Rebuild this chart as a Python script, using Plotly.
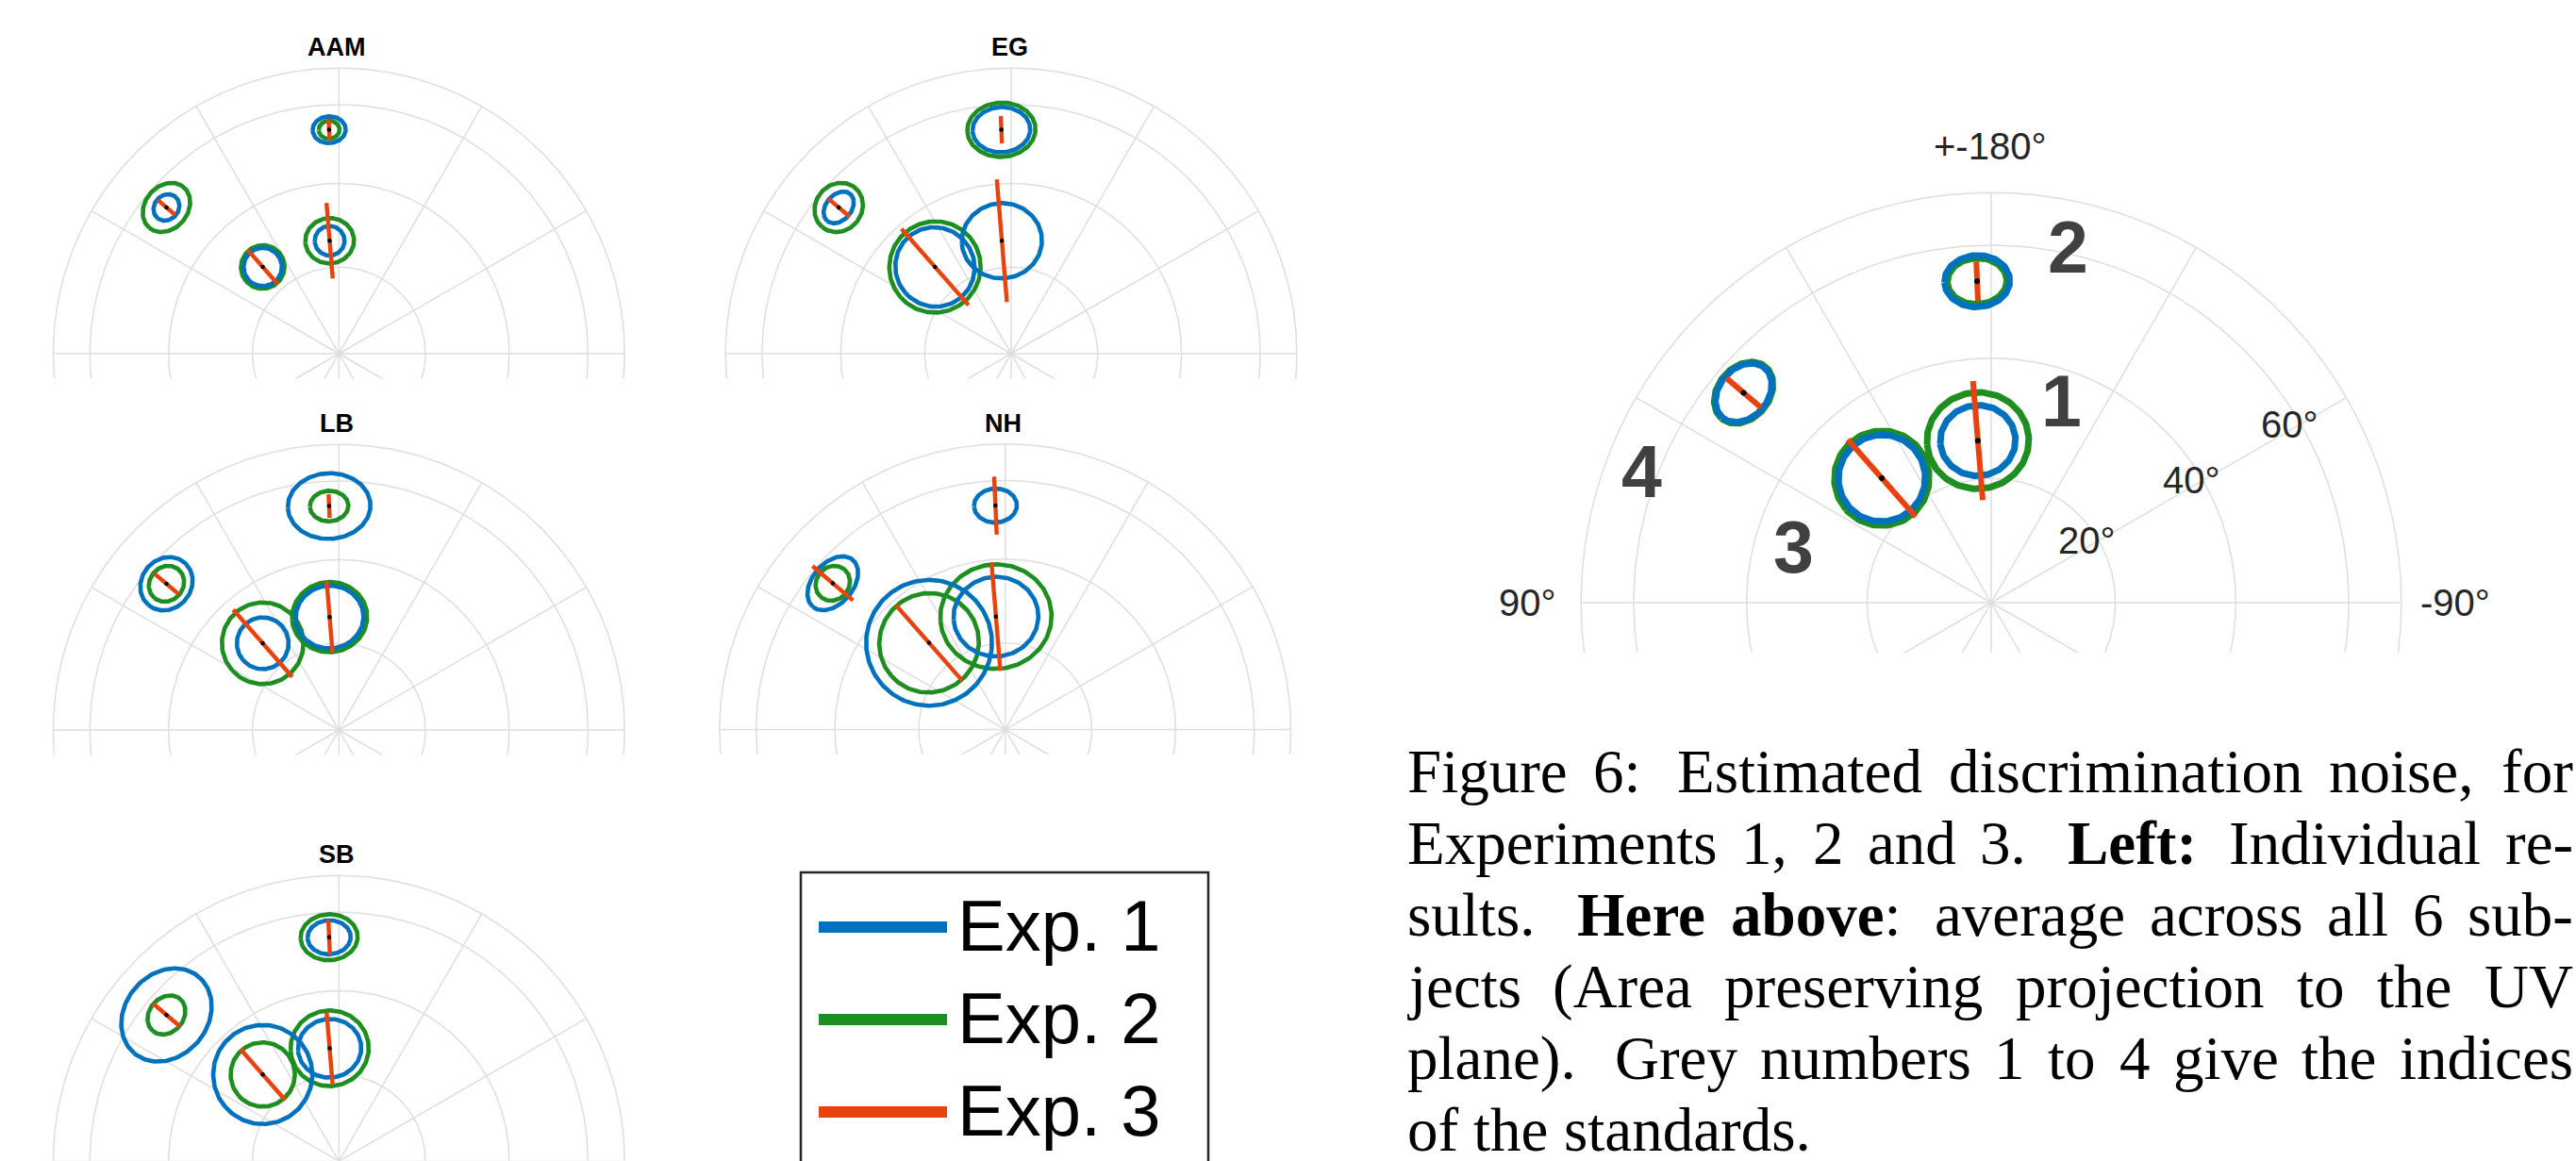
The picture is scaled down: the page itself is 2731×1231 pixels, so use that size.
import re
import numpy as np
import plotly.graph_objects as go

W, H = 2731, 1231

# ---------------------------------------------------------------- data
# Standards: hue angle (deg; 0 = down, 90 = left, +-180 = up) and polar angle (deg)
STD_HUE = [175.3, 177.5, 138.7, 130.3]
STD_POLAR = [26.3, 53.5, 26.8, 54.0]
STD_LABELS = ["1", "2", "3", "4"]

GRID_POLAR = [20, 40, 60]
POLAR_LIMIT = 70
SPOKE_STEP = 30
RTICK_LABELS = ["20°", "40°", "60°"]
THETA_LABELS = ["+-180°", "90°", "-90°"]

SUBJECTS = ["AAM", "EG", "LB", "NH", "SB"]
EXPERIMENTS = ["Exp. 1", "Exp. 2", "Exp. 3"]

# Exp. 1 / Exp. 2: noise ellipse semi-axes (tangential, radial), projected units
# Exp. 3: radial half-length only
AAM_EXP1 = [(0.060, 0.0595), (0.0666, 0.0538), (0.077, 0.077), (0.056, 0.049)]
AAM_EXP2 = [(0.098, 0.091), (0.042, 0.0367), (0.088, 0.087), (0.107, 0.086)]
AAM_EXP3 = [0.152, 0.043, 0.0905, 0.0456]

EG_EXP1 = [(0.161, 0.151), (0.116, 0.091), (0.158, 0.161), (0.0715, 0.0515)]
EG_EXP2 = [None, (0.137, 0.109), (0.184, 0.1825), (0.103, 0.093)]
EG_EXP3 = [0.247, 0.055, 0.204, 0.056]

LB_EXP1 = [(0.136, 0.126), (0.166, 0.132), (0.104, 0.104), (0.112, 0.100)]
LB_EXP2 = [(0.151, 0.141), (0.0773, 0.0615), (0.164, 0.164), (0.0752, 0.0678)]
LB_EXP3 = [0.1445, 0.0475, 0.1796, 0.0638]

NH_EXP1 = [(0.1704, 0.160), (0.0862, 0.0684), (0.2525, 0.2525), (0.124, 0.082)]
NH_EXP2 = [(0.2236, 0.2098), None, (0.2015, 0.198), (0.073, 0.066)]
NH_EXP3 = [0.219, 0.1166, 0.201, 0.1065]

SB_EXP1 = [(0.127, 0.118), (0.0868, 0.0684), (0.199, 0.199), (0.201, 0.166)]
SB_EXP2 = [(0.157, 0.152), (0.1147, 0.0925), (0.129, 0.129), (0.0847, 0.0692)]
SB_EXP3 = [0.145, 0.0697, 0.136, 0.071]

MEAN_EXP1 = [(0.1055, 0.0989), (0.0914, 0.0724), (0.122, 0.121), (0.0914, 0.0687)]
MEAN_EXP2 = [(0.1426, 0.1351), (0.0835, 0.065), (0.133, 0.1325), (0.095, 0.072)]
MEAN_EXP3 = [0.167, 0.0552, 0.144, 0.0633]

CAPTION = [
    "Figure 6: Estimated discrimination noise, for",
    "Experiments 1, 2 and 3. <b>Left:</b> Individual re-",
    "sults. <b>Here above</b>: average across all 6 sub-",
    "jects (Area preserving projection to the UV",
    "plane). Grey numbers 1 to 4 give the indices",
    "of the standards.",
]

# ---------------------------------------------------------------- style
BLUE = "#0072BD"
GREEN = "#1d8e1f"
RED = "#e8420f"
GRID = "#dedede"
SANS = "Liberation Sans"
SERIF = "Liberation Serif"


def proj(polar_deg):
    """Area preserving (Lambert) projection radius."""
    return 2.0 * np.sin(np.radians(polar_deg) / 2.0)


def to_uv(hue, polar):
    r = proj(polar)
    a = np.radians(hue)
    return -r * np.sin(a), -r * np.cos(a)


def frames(hue):
    a = np.radians(hue)
    er = np.array([-np.sin(a), -np.cos(a)])
    et = np.array([np.cos(a), -np.sin(a)])
    return er, et


fig = go.Figure()


def px2paper(x, y):
    return x / W, 1 - y / H


# panel placement: (centre x px, centre y px, px per unit, y range bottom)
PANEL_GEOM = {
    "AAM": (359.3, 375.0, 264.0, -0.10),
    "EG": (1072.0, 375.0, 264.0, -0.10),
    "LB": (359.3, 774.0, 264.0, -0.10),
    "NH": (1065.7, 773.5, 264.0, -0.10),
    "SB": (359.3, 1231.2, 264.0, None),
    "MEAN": (2111.0, 639.0, 379.0, -0.14),
}
PANEL_DATA = {
    "AAM": (AAM_EXP1, AAM_EXP2, AAM_EXP3),
    "EG": (EG_EXP1, EG_EXP2, EG_EXP3),
    "LB": (LB_EXP1, LB_EXP2, LB_EXP3),
    "NH": (NH_EXP1, NH_EXP2, NH_EXP3),
    "SB": (SB_EXP1, SB_EXP2, SB_EXP3),
    "MEAN": (MEAN_EXP1, MEAN_EXP2, MEAN_EXP3),
}

annotations = []
XR = [-1.17, 1.17]
YTOP = 1.2

for n, name in enumerate(SUBJECTS + ["MEAN"], start=1):
    cx, cy, k, ybot = PANEL_GEOM[name]
    if ybot is None:
        ybot = (cy - H) / k + 0.002
    xd = [(cx + XR[0] * k) / W, (cx + XR[1] * k) / W]
    yd = [1 - (cy - ybot * k) / H, 1 - (cy - YTOP * k) / H]
    sfx = "" if n == 1 else str(n)
    fig.update_layout({
        f"xaxis{sfx}": dict(domain=xd, range=XR, visible=False, fixedrange=True,
                            anchor=f"y{sfx}"),
        f"yaxis{sfx}": dict(domain=yd, range=[ybot, YTOP], visible=False,
                            fixedrange=True, anchor=f"x{sfx}"),
    })
    xa, ya = f"x{sfx}", f"y{sfx}"
    big = name == "MEAN"
    lw = 7 if big else 4.6
    rlw = 6 if big else 4.4
    dot = 6 if big else 4.5

    # polar grid: circles and spokes
    gx, gy = [], []
    t = np.linspace(0, 2 * np.pi, 361)
    rmax = proj(POLAR_LIMIT)
    for p in GRID_POLAR + [POLAR_LIMIT]:
        r = proj(p)
        gx += list(r * np.cos(t)) + [None]
        gy += list(r * np.sin(t)) + [None]
    for ang in range(0, 360, SPOKE_STEP):
        a = np.radians(ang)
        gx += [0, rmax * np.cos(a), None]
        gy += [0, rmax * np.sin(a), None]
    fig.add_trace(go.Scatter(x=gx, y=gy, mode="lines", xaxis=xa, yaxis=ya,
                             line=dict(color=GRID, width=1.5), hoverinfo="skip",
                             showlegend=False))

    exp1, exp2, exp3 = PANEL_DATA[name]
    tt = np.linspace(0, 2 * np.pi, 181)

    def ellipse_trace(vals, color):
        ex, ey = [], []
        for i, v in enumerate(vals):
            if v is None:
                continue
            tan, rad = v
            u0, v0 = to_uv(STD_HUE[i], STD_POLAR[i])
            er, et = frames(STD_HUE[i])
            ex += list(u0 + tan * np.cos(tt) * et[0] + rad * np.sin(tt) * er[0]) + [None]
            ey += list(v0 + tan * np.cos(tt) * et[1] + rad * np.sin(tt) * er[1]) + [None]
        fig.add_trace(go.Scatter(x=ex, y=ey, mode="lines", xaxis=xa, yaxis=ya,
                                 line=dict(color=color, width=lw), hoverinfo="skip",
                                 showlegend=False))

    ellipse_trace(exp2, GREEN)
    ellipse_trace(exp1, BLUE)

    lx, ly, dx, dy = [], [], [], []
    for i, half in enumerate(exp3):
        u0, v0 = to_uv(STD_HUE[i], STD_POLAR[i])
        er, _ = frames(STD_HUE[i])
        lx += [u0 - half * er[0], u0 + half * er[0], None]
        ly += [v0 - half * er[1], v0 + half * er[1], None]
        dx.append(u0)
        dy.append(v0)
    fig.add_trace(go.Scatter(x=lx, y=ly, mode="lines", xaxis=xa, yaxis=ya,
                             line=dict(color=RED, width=rlw), hoverinfo="skip",
                             showlegend=False))
    fig.add_trace(go.Scatter(x=dx, y=dy, mode="markers", xaxis=xa, yaxis=ya,
                             marker=dict(color="black", size=dot), hoverinfo="skip",
                             showlegend=False))

    if not big:
        tx, ty = px2paper(cx - 2, cy - (proj(POLAR_LIMIT) * k + 22))
        annotations.append(dict(text=f"<b>{name}</b>", x=tx, y=ty, xref="paper",
                                yref="paper", showarrow=False, xanchor="center",
                                yanchor="middle",
                                font=dict(family=SANS, size=27, color="black")))

# ---------------------------------------------------------------- big-plot labels
cx, cy, k, _ = PANEL_GEOM["MEAN"]
for lab, p in zip(RTICK_LABELS, GRID_POLAR):
    u, v = to_uv(-120, p)
    x, y = px2paper(cx + u * k - 12, cy - v * k)
    annotations.append(dict(text=lab, x=x, y=y, xref="paper", yref="paper",
                            showarrow=False, xanchor="center", yanchor="middle",
                            font=dict(family=SANS, size=40, color="#262626")))

theta_pos = [(2109, 155), (1619, 639), (2603, 639)]
for lab, (px_, py_) in zip(THETA_LABELS, theta_pos):
    x, y = px2paper(px_, py_)
    annotations.append(dict(text=lab, x=x, y=y, xref="paper", yref="paper",
                            showarrow=False, xanchor="center", yanchor="middle",
                            font=dict(family=SANS, size=40, color="#262626")))

std_label_pos = [(2185, 425), (2192, 262), (1902, 580), (1740, 500)]
for lab, (px_, py_) in zip(STD_LABELS, std_label_pos):
    x, y = px2paper(px_, py_)
    annotations.append(dict(text=f"<b>{lab}</b>", x=x, y=y, xref="paper", yref="paper",
                            showarrow=False, xanchor="center", yanchor="middle",
                            font=dict(family=SANS, size=77, color="#404040")))

# ---------------------------------------------------------------- legend
shapes = []
bx0, by0, bx1, by1 = 849, 925, 1281, 1260
x0p, y0p = px2paper(bx0, by1)
x1p, y1p = px2paper(bx1, by0)
shapes.append(dict(type="rect", xref="paper", yref="paper", x0=x0p, x1=x1p,
                   y0=y0p, y1=y1p, line=dict(color="#262626", width=2.5),
                   fillcolor="rgba(0,0,0,0)"))
for lab, col, ly_px in zip(EXPERIMENTS, [BLUE, GREEN, RED], [983, 1081, 1179]):
    a0, b0 = px2paper(868, ly_px)
    a1, _ = px2paper(1004, ly_px)
    shapes.append(dict(type="line", xref="paper", yref="paper", x0=a0, x1=a1,
                       y0=b0, y1=b0, line=dict(color=col, width=12)))
    tx, ty = px2paper(1013, ly_px - 2)
    annotations.append(dict(text=lab, x=tx, y=ty, xref="paper", yref="paper",
                            showarrow=False, xanchor="left", yanchor="middle",
                            font=dict(family=SANS, size=76, color="black")))

# ---------------------------------------------------------------- caption (justified)
TIMES = dict(zip(
    " !(),-.:0123456789ABCDEFGHIJKLMNOPQRSTUVWXYZabcdefghijklmnopqrstuvwxyz",
    [250, 333, 333, 333, 250, 333, 250, 278] + [500] * 10 +
    [722, 667, 667, 722, 611, 556, 722, 722, 333, 389, 722, 611, 889, 722, 722,
     556, 722, 667, 556, 611, 722, 722, 944, 722, 722, 611] +
    [444, 500, 444, 500, 444, 333, 500, 500, 278, 278, 500, 278, 778, 500, 500,
     500, 500, 333, 389, 278, 500, 500, 722, 500, 500, 444]))
TIMES_BOLD = dict(zip(
    " :.,ALHabefortv",
    [250, 333, 250, 250, 722, 667, 778, 500, 556, 444, 333, 500, 444, 333, 500]))

FS = 65
CAP_X0, CAP_X1 = 1490, 2726
BASE0, LEAD = 840, 76


def word_width(word, bold):
    w = 0.0
    for part in re.split(r"(</?b>)", word):
        if part == "<b>":
            bold = True
        elif part == "</b>":
            bold = False
        else:
            for ch in part:
                tab = TIMES_BOLD if bold and ch in TIMES_BOLD else TIMES
                w += tab.get(ch, 500)
    return w / 1000.0 * FS, bold


def space_factor(word):
    plain = re.sub(r"</?b>", "", word)
    last = plain[-1]
    return {".": 3.0, ":": 2.0, ",": 1.25}.get(last, 1.0)


for li, line in enumerate(CAPTION):
    words = line.split(" ")
    bold = False
    widths, states = [], []
    for w in words:
        states.append(bold)
        ww, bold = word_width(w, bold)
        widths.append(ww)
    nat_gap = 0.25 * FS
    sfs = [space_factor(w) for w in words[:-1]]
    last_line = li == len(CAPTION) - 1
    if last_line or not sfs:
        gaps = [nat_gap * s ** 0.3 for s in sfs]
    else:
        leftover = (CAP_X1 - CAP_X0) - sum(widths) - nat_gap * len(sfs)
        gaps = [nat_gap + leftover * s / sum(sfs) for s in sfs]
    x = CAP_X0
    base = BASE0 + li * LEAD
    for i, w in enumerate(words):
        txt = w
        if states[i] and not w.startswith("<b>"):
            txt = "<b>" + txt
            if "</b>" not in w:
                txt += "</b>"
        if "<b>" in txt and "</b>" not in txt:
            txt += "</b>"
        px_, py_ = px2paper(x, base - 0.34 * FS)
        annotations.append(dict(text=txt, x=px_, y=py_, xref="paper", yref="paper",
                                showarrow=False, xanchor="left", yanchor="middle",
                                font=dict(family=SERIF, size=FS, color="black")))
        x += widths[i] + (gaps[i] if i < len(gaps) else 0)

fig.update_layout(
    width=W, height=H,
    margin=dict(l=0, r=0, t=0, b=0),
    paper_bgcolor="white", plot_bgcolor="white",
    showlegend=False,
    annotations=annotations,
    shapes=shapes,
)

fig.write_html("out.html")
